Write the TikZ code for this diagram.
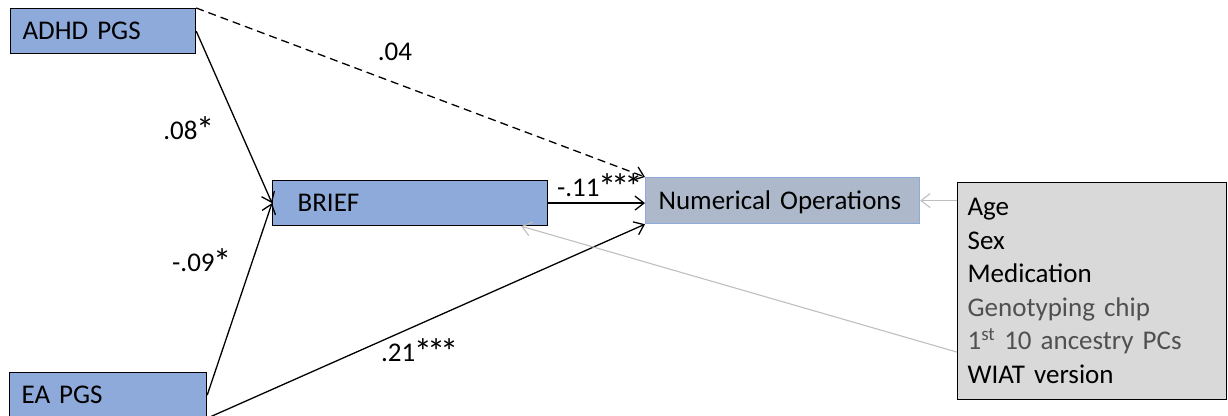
\documentclass[tikz,border=0pt]{standalone}
\usepackage{graphicx}
\usepackage{fontspec}
\setmainfont{Carlito}
\usetikzlibrary{arrows.meta,calc}
\definecolor{PgsColor}{RGB}{142,170,219}
\definecolor{OutColor}{RGB}{173,185,202}
\definecolor{OutEdge} {RGB}{142,169,219}
\definecolor{CovColor}{RGB}{217,217,217}
\definecolor{CovText} {RGB}{80,80,80}
\definecolor{CovLine} {RGB}{191,191,191}
% significance star, a bit larger and tighter than the font's own
\newcommand\sigstar{\kern-1.5pt\raisebox{-3pt}{\scalebox{1.35}{*}}\kern-3.5pt}

\begin{document}
\begin{tikzpicture}[x=1pt,y=-1pt,
  every node/.style={font=\fontsize{27}{33.5}\selectfont,align=left},
  box/.style={draw,line width=1.2pt,anchor=north west,minimum height=45pt,inner ysep=0pt},
  edgeline/.style={line width=1.3pt,-{Straight Barb[length=9pt,width=14pt]}},
  coef/.style={anchor=center}]
\useasboundingbox (0,0) rectangle (1228,415);
\clip (0,0) rectangle (1228,415);
% variables
\node[box,fill=PgsColor,inner xsep=12pt,text width=161pt] (adhd) at (10,8) {ADHD PGS};
\node[box,fill=PgsColor,inner xsep=12pt,text width=173pt] (ea) at (9,372) {EA PGS};
\node[box,fill=PgsColor,inner xsep=25pt,text width=225pt] (brief) at (272,180) {BRIEF};
\node[box,draw=OutEdge,fill=OutColor,inner xsep=13pt,text width=248pt,minimum height=46pt,text depth=0pt] (numop) at (645,177) {Numerical Operations};
\node[box,fill=CovColor,inner xsep=10pt,text width=249pt,minimum height=217pt] (cov) at (957,182)
  {Age\\Sex\\Medication\\\textcolor{CovText}{Genotyping chip}\\\textcolor{CovText}{1\textsuperscript{st} 10 ancestry PCs}\\WIAT version};
% path coefficients
\node[coef] (c04) at (395,52) {.04};
\node[coef] (c08) at (187,130) {.08\sigstar};
\node[coef] (c09) at (200,262) {-.09\sigstar};
\node[coef] (c21) at (418,352) {.21\sigstar\sigstar\sigstar};
\node[coef] (c11) at (598,187) {-.11\sigstar\sigstar\sigstar};
% paths
\draw[edgeline,dash pattern=on 8pt off 5pt] (adhd.north east) -- (numop.north west);
\foreach \a/\b in {adhd.east/brief.west,ea.east/brief.west,ea.south east/numop.south west}
  \draw[edgeline] (\a) -- (\b);
\draw[edgeline] (brief.east) -- (numop.west |- brief.east);
% covariates
\draw[edgeline,draw=CovLine,line width=1.1pt] (cov.west |- numop.east) -- (numop.east);
\draw[edgeline,draw=CovLine,line width=1.1pt] ($(cov.west)+(0,61)$) -- ($(brief.south east)+(-27,0)$);
\end{tikzpicture}
\end{document}
